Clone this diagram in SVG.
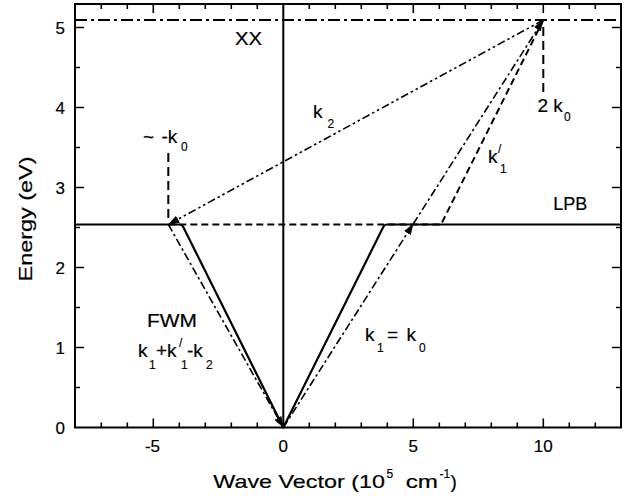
<svg xmlns="http://www.w3.org/2000/svg" width="632" height="499" viewBox="0 0 632 499">
<style>
.ln{fill:none;stroke:#000;stroke-linecap:butt}
.frame{stroke-width:2}
.tick{stroke-width:1.6}
.solid{stroke-width:2.2;stroke-linejoin:round}
.dash{stroke-width:2;stroke-dasharray:7 4}
.vdash{stroke-width:2;stroke-dasharray:9 5}
.xx{stroke-width:2;stroke-dasharray:12 4 3 4}
.dd{stroke-width:1.6;stroke-dasharray:8 3 2.5 3 2.5 3}
.dt{stroke-width:1.6;stroke-dasharray:8 3 2.5 3}
text{font-family:"Liberation Sans",Arial,Helvetica,sans-serif;fill:#000;stroke:#000;stroke-width:0.2}
.tl{font-size:17px}
.lab{font-size:18px}
.k{font-size:19px}
.sub{font-size:12px;stroke-width:0.15}
</style>
<defs>
<marker id="arr" markerUnits="userSpaceOnUse" markerWidth="11" markerHeight="8" refX="11" refY="4" orient="auto">
<path d="M0,0 L11,4 L0,8 z" fill="#000"/>
</marker>
</defs>
<rect width="632" height="499" fill="#fff"/>

<g id="axes">
<rect class="ln frame" x="75" y="4" width="546" height="423.5"/>
<path class="ln tick" d="M101.3,427.5v-5M127.3,427.5v-5M153.3,427.5v-9M179.3,427.5v-5M205.3,427.5v-5M231.3,427.5v-5M257.3,427.5v-5M309.3,427.5v-5M335.3,427.5v-5M361.3,427.5v-5M387.3,427.5v-5M413.3,427.5v-9M439.3,427.5v-5M465.3,427.5v-5M491.3,427.5v-5M517.3,427.5v-5M543.3,427.5v-9M569.3,427.5v-5M595.3,427.5v-5"/>
<path class="ln tick" d="M101.3,4v5M127.3,4v5M153.3,4v9M179.3,4v5M205.3,4v5M231.3,4v5M257.3,4v5M309.3,4v5M335.3,4v5M361.3,4v5M387.3,4v5M413.3,4v9M439.3,4v5M465.3,4v5M491.3,4v5M517.3,4v5M543.3,4v9M569.3,4v5M595.3,4v5"/>
<path class="ln tick" d="M75,387.5h5M75,347.5h9M75,307.5h5M75,267.5h9M75,227.5h5M75,187.5h9M75,147.5h5M75,107.5h9M75,67.5h5M75,27.5h9"/>
<path class="ln tick" d="M621,387.5h-5M621,347.5h-9M621,307.5h-5M621,267.5h-9M621,227.5h-5M621,187.5h-9M621,147.5h-5M621,107.5h-9M621,67.5h-5M621,27.5h-9"/>
<path class="ln frame" d="M283.3,4V427.5"/>
<g class="tl" text-anchor="end">
<text x="65" y="433.5">0</text>
<text x="65" y="353.5">1</text>
<text x="65" y="273.5">2</text>
<text x="65" y="193.5">3</text>
<text x="65" y="113.5">4</text>
<text x="65" y="33.5">5</text>
</g>
<g class="tl" text-anchor="middle">
<text x="152.5" y="452">-5</text>
<text x="283.3" y="452">0</text>
<text x="413.3" y="452">5</text>
<text x="543.3" y="452">10</text>
</g>
<text id="ytitle" transform="translate(32,219) rotate(-90)" text-anchor="middle" font-size="18.5" textLength="125" lengthAdjust="spacingAndGlyphs">Energy (eV)</text>
<text id="xtitle" y="488.3" font-size="19"><tspan x="213.3" textLength="171.7" lengthAdjust="spacingAndGlyphs">Wave Vector (10</tspan><tspan x="386.5" y="478.3" font-size="12">5</tspan><tspan x="399" y="488.3" textLength="39" lengthAdjust="spacingAndGlyphs"> cm</tspan><tspan x="439.5" y="478.3" font-size="12">-1</tspan><tspan x="450.5" y="488.3">)</tspan></text>
</g>

<g id="levels">
<path id="XX-line" class="ln xx" d="M75,20H621"/>
<path id="LPB-curve" class="ln solid" d="M75,224.5H179.5Q182,224.5 183,226.5L283.3,427.5L383.5,226.5Q384.5,224.5 387,224.5H621"/>
</g>

<g id="connectors">
<path id="lpb-dashed-k1p" class="ln dash" d="M168.3,224.5H441L543.3,20"/>
<path id="k0-mark" class="ln vdash" d="M543.3,27V92"/>
<path id="mk0-mark" class="ln vdash" d="M168.3,153V218"/>
<path id="k2-arrow" class="ln dd" d="M543.3,20L168.3,224.5" marker-end="url(#arr)"/>
<path id="fwm-arrow" class="ln dt" d="M168.3,224.5L283.3,427.5" marker-end="url(#arr)"/>
<path id="k1-arrow-a" class="ln dt" d="M283.3,427.5L413.3,223.8" marker-end="url(#arr)"/>
<path id="k1-arrow-b" class="ln dt" d="M413.3,223.8L543.3,20" marker-end="url(#arr)"/>
</g>

<g id="labels">
<text id="lbl-XX" class="lab" x="235" y="45" textLength="27" lengthAdjust="spacingAndGlyphs">XX</text>
<text id="lbl-LPB" class="lab" x="553.3" y="210">LPB</text>
<text id="lbl-FWM" class="lab" x="147" y="327" textLength="50" lengthAdjust="spacingAndGlyphs">FWM</text>
<text id="lbl-k2" class="k"><tspan x="313" y="118">k</tspan><tspan class="sub" x="327.5" y="128">2</tspan></text>
<text id="lbl-mk0" class="k"><tspan x="143" y="143">~</tspan><tspan x="161.5" y="143">-k</tspan><tspan class="sub" x="181" y="151">0</tspan></text>
<text id="lbl-2k0" class="k"><tspan x="537.5" y="112">2 k</tspan><tspan class="sub" x="564" y="120.5">0</tspan></text>
<text id="lbl-k1p" class="k"><tspan x="488" y="163">k</tspan><tspan class="sub" x="498" y="153">/</tspan><tspan class="sub" x="500" y="172.5">1</tspan></text>
<text id="lbl-fwm-k" class="k"><tspan x="138" y="357">k</tspan><tspan class="sub" x="149" y="368.5">1</tspan><tspan x="156" y="357">+k</tspan><tspan class="sub" x="179" y="347">/</tspan><tspan class="sub" x="181" y="368.5">1</tspan><tspan x="187" y="357">-k</tspan><tspan class="sub" x="206" y="368.5">2</tspan></text>
<text id="lbl-k1k0" class="k"><tspan x="365" y="341">k</tspan><tspan class="sub" x="377" y="352">1</tspan><tspan x="387" y="341">=</tspan><tspan x="406.5" y="341">k</tspan><tspan class="sub" x="419" y="352">0</tspan></text>
</g>
</svg>
